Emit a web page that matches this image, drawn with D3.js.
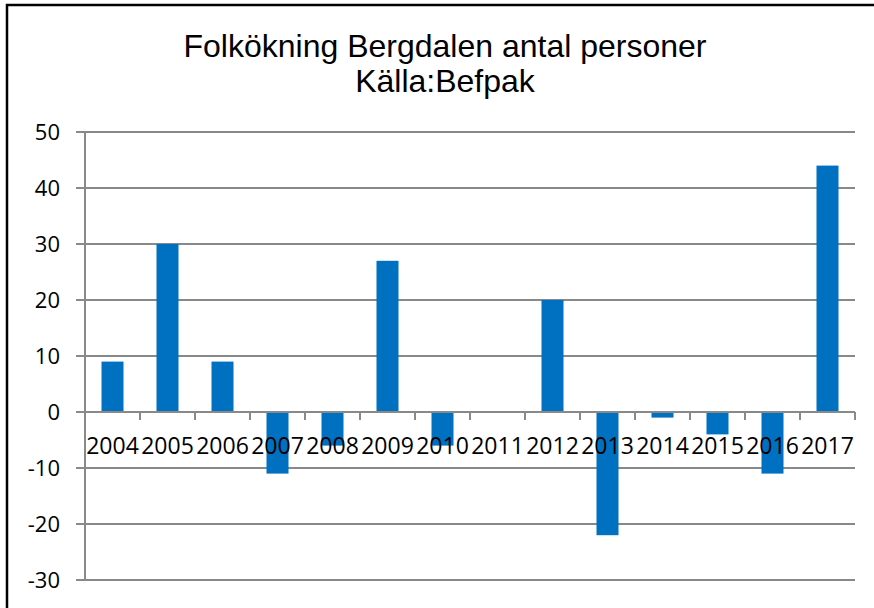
<!DOCTYPE html>
<html>
<head>
<meta charset="utf-8">
<script src="https://cdn.jsdelivr.net/npm/d3@7"></script>
<style>
  body { margin: 0; background: #fff; overflow: hidden; }
  svg { display: block; }
</style>
</head>
<body>
<div id="chart"></div>
<script>
// Data
var years = ["2004", "2005", "2006", "2007", "2008", "2009", "2010",
             "2011", "2012", "2013", "2014", "2015", "2016", "2017"];
var values = [9, 30, 9, -11, -6, 27, -6, 0, 20, -22, -1, -4, -11, 44];
var yTicks = [-30, -20, -10, 0, 10, 20, 30, 40, 50];
var titleLines = ["Folkökning Bergdalen antal personer", "Källa:Befpak"];

var width = 874, height = 608;
var plotLeft = 85, plotRight = 855, plotTop = 132, plotBottom = 580;

var svg = d3.select("#chart").append("svg")
  .attr("width", width)
  .attr("height", height);

// outer frame: only top and left edges are visible in the source
svg.append("path")
  .attr("d", "M7," + height + "V5H" + width)
  .attr("fill", "none")
  .attr("stroke", "#000")
  .attr("stroke-width", 2.5);

// scales
var x = d3.scaleBand()
  .domain(years)
  .range([plotLeft, plotRight])
  .paddingInner(0.6)
  .paddingOuter(0.3);

var y = d3.scaleLinear()
  .domain([-30, 50])
  .range([plotBottom, plotTop]);

// gridlines + y tick marks
svg.append("g").selectAll("line")
  .data(yTicks)
  .join("line")
  .attr("x1", plotLeft - 9).attr("x2", plotRight)
  .attr("y1", d => y(d)).attr("y2", d => y(d))
  .attr("stroke", "#898989")
  .attr("stroke-width", 2);

// y axis line
svg.append("line")
  .attr("x1", plotLeft).attr("x2", plotLeft)
  .attr("y1", plotTop).attr("y2", plotBottom)
  .attr("stroke", "#898989")
  .attr("stroke-width", 2);

// y labels
svg.append("g").selectAll("text")
  .data(yTicks)
  .join("text")
  .attr("x", 60)
  .attr("y", d => y(d))
  .attr("dy", "0.36em")
  .attr("text-anchor", "end")
  .attr("font-family", "Open Sans, sans-serif")
  .attr("font-size", 22)
  .attr("fill", "#000")
  .text(d => d);

// bars
svg.append("g").selectAll("rect")
  .data(values)
  .join("rect")
  .attr("x", (d, i) => x(years[i]))
  .attr("width", x.bandwidth())
  .attr("y", d => y(Math.max(0, d)))
  .attr("height", d => Math.abs(y(d) - y(0)))
  .attr("fill", "#0070C0");

// x axis on zero line, ticks at category boundaries
var step = x.step();
var bounds = d3.range(years.length + 1).map(i => plotLeft + i * step);
svg.append("line")
  .attr("x1", plotLeft).attr("x2", plotRight)
  .attr("y1", y(0)).attr("y2", y(0))
  .attr("stroke", "#898989")
  .attr("stroke-width", 2);
svg.append("g").selectAll("line")
  .data(bounds)
  .join("line")
  .attr("x1", d => d).attr("x2", d => d)
  .attr("y1", y(0)).attr("y2", y(0) + 8)
  .attr("stroke", "#898989")
  .attr("stroke-width", 2);

// x labels
svg.append("g").selectAll("text")
  .data(years)
  .join("text")
  .attr("x", d => x(d) + x.bandwidth() / 2)
  .attr("y", 454)
  .attr("text-anchor", "middle")
  .attr("font-family", "Open Sans, sans-serif")
  .attr("font-size", 23)
  .attr("fill", "#000")
  .text(d => d);

// title
svg.append("g").selectAll("text")
  .data(titleLines)
  .join("text")
  .attr("x", 445)
  .attr("y", (d, i) => 57 + i * 35)
  .attr("text-anchor", "middle")
  .attr("font-family", "Liberation Sans, Arial, sans-serif")
  .attr("font-size", 32)
  .attr("fill", "#000")
  .text(d => d);
</script>
</body>
</html>
